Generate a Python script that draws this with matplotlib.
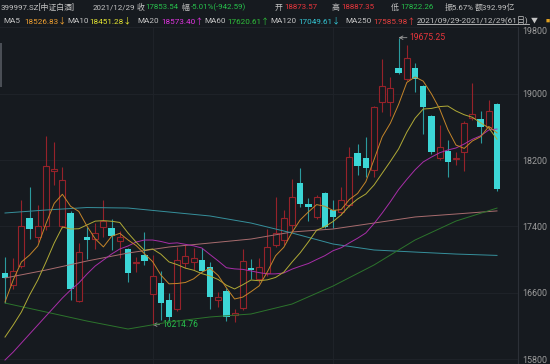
import numpy as np
import matplotlib
matplotlib.use("Agg")
import matplotlib.pyplot as plt
from matplotlib.lines import Line2D
from matplotlib.patches import Rectangle

plt.rcParams['font.family'] = ['Roboto', 'Noto Sans CJK SC', 'DejaVu Sans']

# 399997.SZ daily candles, 2021/09/29 - 2021/12/29 (61 sessions)
opens = [16841, 16692, 16922, 17500, 17271, 17404, 18067, 17404, 17564, 16503,
         17271, 17247, 17392, 17380, 17229, 17127, 16952, 17051, 16584, 16713,
         16512, 16399, 16961, 16970, 17000, 16910, 16512, 16620, 16331, 16411,
         16897, 16765, 16834, 17175, 17235, 17416, 17919, 17669, 17509, 17798,
         17597, 17573, 17657, 18290, 18228, 18085, 18903, 18903, 19313, 19173,
         19313, 19092, 18731, 18224, 18308, 18212, 18300, 18707, 18700, 18602, 18873.57]
highs = [17034, 17018, 17718, 17874, 17657, 18489, 18417, 18116, 17585, 17199,
         17392, 17440, 17718, 17488, 17344, 17139, 17030, 17335, 17054, 16861,
         16596, 17154, 17175, 17139, 17139, 16973, 16612, 16656, 16403, 17123,
         17012, 17018, 17368, 17754, 17597, 17971, 18100, 17742, 17778, 17818,
         17718, 17874, 18357, 18393, 18477, 18851, 19418, 19205, 19675.25, 19587,
         19366, 19104, 18743, 18622, 18441, 18296, 18670, 19125, 18791, 18924, 18887.35]
lows = [16475, 16644, 16897, 17247, 17211, 17356, 17898, 17380, 16512, 16487,
        17006, 17127, 17271, 17115, 17018, 16729, 16849, 16934, 16214.76, 16270,
        16258, 16379, 16897, 16873, 16849, 16403, 16427, 16258, 16246, 16391,
        16765, 16717, 16801, 17151, 17175, 17332, 17633, 17464, 17488, 17380,
        17380, 17537, 17633, 18019, 17995, 17995, 18779, 18731, 19237, 19153,
        19024, 18514, 18272, 18200, 17995, 18140, 18067, 18682, 18405, 18586, 17822.26]
closes = [16773, 16865, 17404, 17368, 17404, 18128, 18091, 17959, 16641, 17094,
          17235, 17320, 17468, 17283, 17271, 16841, 16976, 16982, 16801, 16472,
          16303, 16994, 17042, 17024, 16865, 16548, 16554, 16303, 16349, 16982,
          16873, 16910, 17147, 17316, 17497, 17757, 17669, 17630, 17757, 17396,
          17509, 17718, 18236, 18128, 18103, 18835, 19092, 19065, 19255, 19426,
          19173, 18839, 18300, 18351, 18179, 18228, 18643, 18751, 18602, 18796.13, 17853.54]

# moving averages
ma5 = [16487, 16753, 16970, 17054, 17163, 17433, 17677, 17787, 17642, 17580,
       17402, 17250, 17152, 17280, 17316, 17236, 17168, 17071, 16975, 16814,
       16707, 16711, 16723, 16767, 16846, 16895, 16807, 16659, 16524, 16547,
       16612, 16683, 16852, 17046, 17148, 17326, 17478, 17574, 17662, 17642,
       17592, 17602, 17724, 17797, 17938, 18204, 18479, 18645, 18871, 19135,
       19202, 19151, 18998, 18817, 18569, 18380, 18340, 18430, 18481, 18605, 18526.83]
ma10 = [16065, 16210, 16367, 16572, 16753, 16970, 17199, 17392, 17368, 17371,
        17417, 17463, 17469, 17461, 17447, 17320, 17209, 17111, 17127, 17065,
        16971, 16938, 16896, 16871, 16830, 16801, 16759, 16690, 16645, 16696,
        16753, 16744, 16755, 16784, 16848, 16969, 17081, 17213, 17353, 17396,
        17458, 17539, 17649, 17730, 17790, 17898, 18041, 18184, 18334, 18536,
        18703, 18815, 18822, 18844, 18851, 18791, 18746, 18715, 18649, 18587, 18451.28]
ma20 = [15788, 15884, 15993, 16102, 16210, 16319, 16427, 16536, 16632, 16717,
        16825, 16922, 16994, 17066, 17127, 17163, 17211, 17235, 17235, 17218,
        17194, 17201, 17183, 17165, 17139, 17060, 16983, 16901, 16887, 16881,
        16862, 16842, 16826, 16827, 16838, 16884, 16919, 16952, 17000, 17046,
        17106, 17142, 17201, 17257, 17320, 17433, 17561, 17698, 17844, 17966,
        18081, 18177, 18235, 18287, 18321, 18345, 18393, 18450, 18492, 18562, 18573.40]
# long averages, sampled every 5 sessions
long_idx = [0, 5, 10, 15, 20, 25, 30, 35, 40, 45, 50, 55, 60]
ma60 = [16475, 16367, 16258, 16162, 16246, 16307, 16343, 16463, 16680, 16934, 17235, 17464, 17620.61]
ma120 = [17561, 17597, 17627, 17621, 17573, 17525, 17440, 17320, 17187, 17115, 17090, 17066, 17049.61]
ma250 = [16777, 16873, 16982, 17078, 17151, 17199, 17247, 17332, 17368, 17440, 17513, 17549, 17585.98]

y_ticks = [15800, 16600, 17400, 18200, 19000, 19800]
month_starts = [18, 40]   # 11/01, 12/01
turnover = '392.99亿'

BG = '#161a1f'
RED = '#e8353b'
GREEN = '#27c04c'
CYAN = '#3cd6d6'
GREY = '#c4c4c4'
W, H = 550, 364

fig = plt.figure(figsize=(W / 100, H / 100), dpi=100, facecolor=BG)
ax = fig.add_axes([0, 0, 518 / W, 1 - 27 / H], facecolor=BG)

x = np.arange(len(closes))
o, h, l, c = (np.asarray(a, float) for a in (opens, highs, lows, closes))
up = c >= o
dn = ~up

# grid
for t in y_ticks:
    ax.axhline(t, color='#1f2329', lw=0.7, zorder=0)
for m in month_starts:
    ax.axvline(m, color='#1f2329', lw=0.7, zorder=0)

# falling: filled cyan
ax.vlines(x[dn], l[dn], h[dn], color='#2b9a9e', lw=0.8, zorder=2)
ax.bar(x[dn], o[dn] - c[dn], bottom=c[dn], width=0.78, color=CYAN, lw=0, zorder=3)
# rising: hollow red
red_k = '#96222a'
ax.vlines(x[up], c[up], h[up], color=red_k, lw=0.8, zorder=2)
ax.vlines(x[up], l[up], o[up], color=red_k, lw=0.8, zorder=2)
ax.bar(x[up], c[up] - o[up], bottom=o[up], width=0.72, facecolor=BG,
       edgecolor=red_k, lw=0.8, zorder=3)

# moving averages
ax.plot(long_idx, ma250, color='#a86c6e', lw=0.7, zorder=4)
ax.plot(long_idx, ma120, color='#36909c', lw=0.7, zorder=4)
ax.plot(long_idx, ma60, color='#2c742c', lw=0.7, zorder=4)
ax.plot(x, ma20, color='#a82ea8', lw=0.7, zorder=4)
ax.plot(x, ma10, color='#b0aa36', lw=0.7, zorder=4)
ax.plot(x, ma5, color='#c4852a', lw=0.7, zorder=4)

# highest / lowest marks
ih = int(np.argmax(h))
il = int(np.argmin(l))
ax.annotate(f'{h[ih]:.2f}', xy=(ih, h[ih]), xytext=(8, 0), textcoords='offset points',
            color=RED, fontsize=6.2, va='center', ha='left',
            arrowprops=dict(arrowstyle='->', color='#a0a0a0', lw=0.6, shrinkA=0, shrinkB=0))
ax.annotate(f'{l[il]:.2f}', xy=(il, l[il]), xytext=(7, 0), textcoords='offset points',
            color=GREEN, fontsize=6.2, va='center', ha='left',
            arrowprops=dict(arrowstyle='->', color='#a0a0a0', lw=0.6, shrinkA=0, shrinkB=0))

ax.set_xlim(-0.61, 62.56)
ax.set_ylim(15740, 19804)
ax.set_xticks([])
ax.yaxis.tick_right()
ax.set_yticks(y_ticks)
ax.set_yticklabels([str(t) for t in y_ticks])
ax.tick_params(axis='y', length=0, pad=3, labelsize=6.4, labelcolor='#9c9c9c')
ax.get_yticklabels()[-1].set_verticalalignment('top')
for s in ('top', 'bottom', 'left'):
    ax.spines[s].set_visible(False)
ax.spines['right'].set_color('#2c3037')
ax.spines['right'].set_linewidth(0.8)

# scroll marker on left edge
fig.add_artist(Rectangle((0, 1 - 87 / H), 1.5 / W, 44 / H, transform=fig.transFigure,
                         color='#4a4e55', lw=0))

renderer = fig.canvas.get_renderer()


def row(py, items, fs):
    # items: (x in px, text, colour); texts are pushed right if they would collide
    end = 0
    out = []
    for px, s, col in items:
        px = max(px, end + 1)
        t = fig.text(px / W, 1 - py / H, s, color=col, fontsize=fs, va='center', ha='left')
        end = t.get_window_extent(renderer).x1
        out.append(t)
    return out


prev = c[-2]
chg = c[-1] - prev
row(7, [(0, '399997.SZ[中证白酒]', GREY),
        (93, '2021/12/29', GREY),
        (132, '收', GREY), (139, f'{c[-1]:.2f}', GREEN),
        (182, '幅', GREY), (189, f'{chg / prev * 100:.2f}%({chg:.2f})', GREEN),
        (275, '开', GREY), (281, f'{o[-1]:.2f}', RED),
        (332, '高', GREY), (340, f'{h[-1]:.2f}', RED),
        (391, '低', GREY), (398, f'{l[-1]:.2f}', GREEN),
        (445, f'振{(h[-1] - l[-1]) / prev * 100:.2f}%', GREY),
        (475, f'额{turnover}', GREY)], 5.7)


def arrow(series):
    return '↑' if series[-1] >= series[-2] else '↓'


ma_items = [('MA5', ma5, '#f0a030', 3, 24), ('MA10', ma10, '#e6e632', 66, 87),
            ('MA20', ma20, '#e034e0', 137, 161), ('MA60', ma60, '#2fc03a', 203, 225),
            ('MA120', ma120, '#34c8d6', 268, 298), ('MA250', ma250, '#e8403f', 345, 373)]
items2 = []
for name, s, col, xl, xv in ma_items:
    items2 += [(xl, name, GREY), (xv, f'{s[-1]:.2f}{arrow(s)}', col)]
items2.append((417, '2021/09/29-2021/12/29(61日)', GREY))
texts2 = row(21, items2, 5.9)
t_rng = texts2[-1]
bb = t_rng.get_window_extent(renderer)
fig.text((bb.x1 + 2) / W, 1 - 21 / H, '▼', color=GREY, fontsize=5, va='center', ha='left')
fig.text(546 / W, 1 - 21 / H, '■', color='#e0a020', fontsize=3, va='center', ha='left')

inv = fig.transFigure.inverted()
(ux0, uy0), (ux1, _) = inv.transform([(bb.x0, bb.y0 + 1), (bb.x1, bb.y0)])
fig.add_artist(Line2D([ux0, ux1], [uy0, uy0], color=GREY, lw=0.6, transform=fig.transFigure))

fig.savefig('out.png', dpi=100, facecolor=BG)
